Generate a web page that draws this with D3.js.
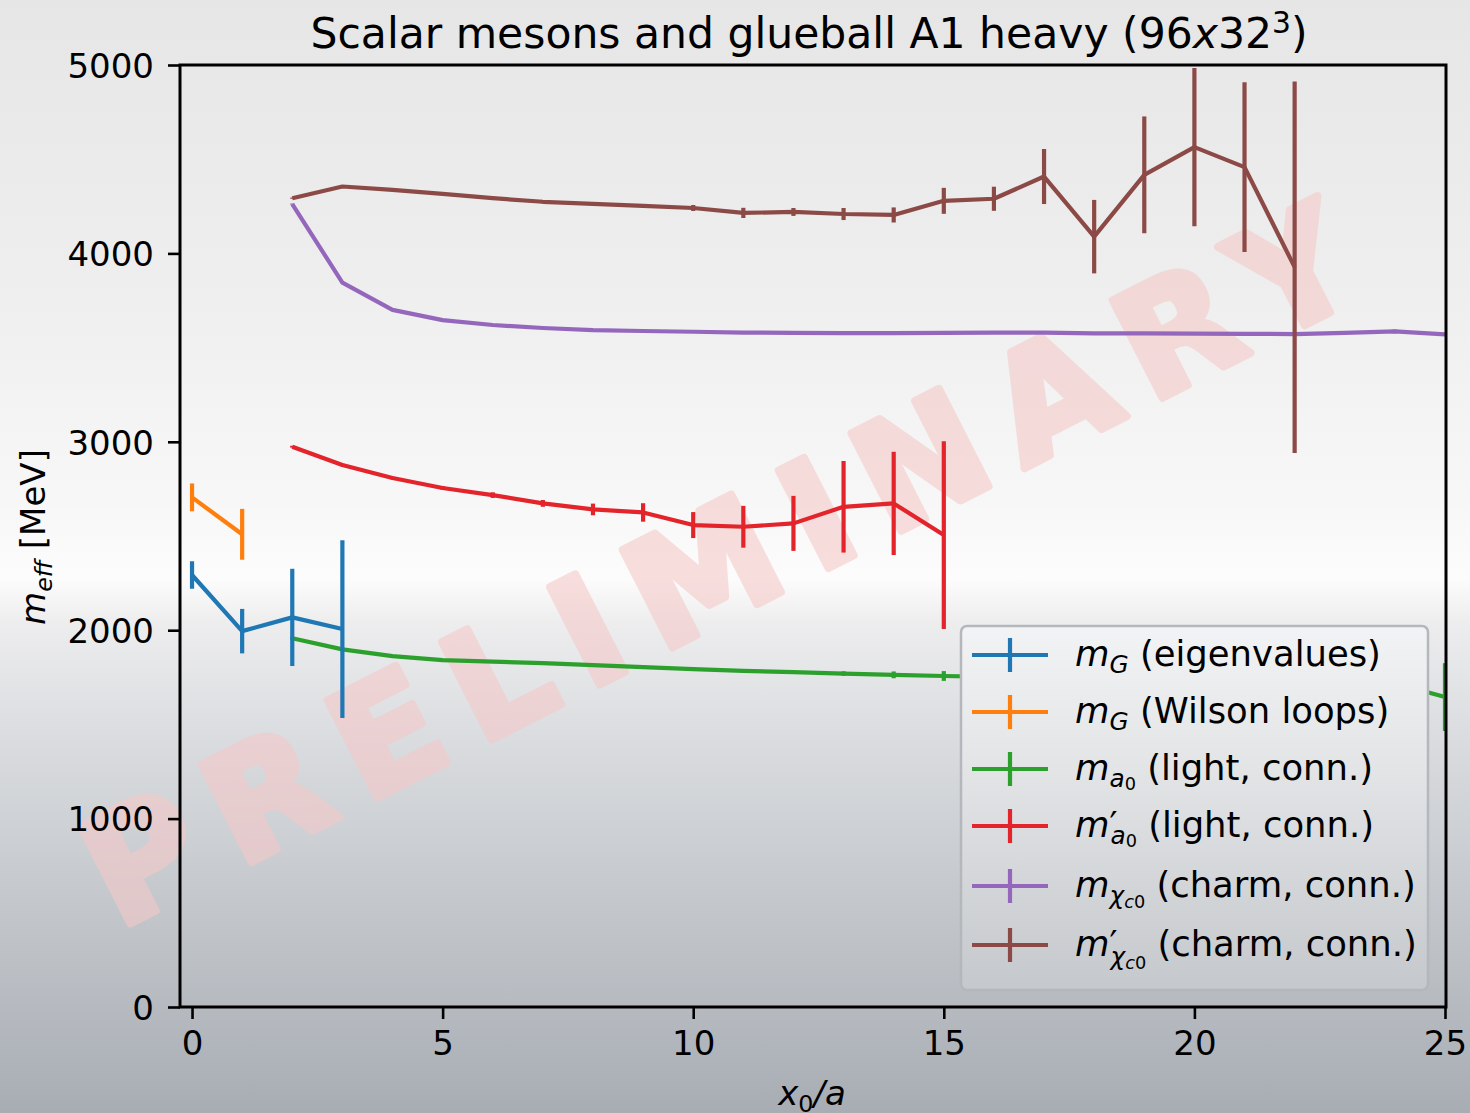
<!DOCTYPE html>
<html>
<head>
<meta charset="utf-8">
<script src="https://cdn.jsdelivr.net/npm/d3@7"></script>
<style>
  html, body { margin: 0; padding: 0; background: #ffffff; }
  svg { display: block; }
  text { font-family: "DejaVu Sans", sans-serif; fill: #000; white-space: pre; }
</style>
</head>
<body>
<svg id="chart" width="1470" height="1113"></svg>
<script>
// ---------------- data ----------------
const xTicks = [0, 5, 10, 15, 20, 25];
const yTicks = [0, 1000, 2000, 3000, 4000, 5000];

const glueEigX = [0, 1, 2, 3];
const glueEigY = [2293, 1995, 2068, 2006];
const glueEigE = [73, 118, 258, 472];

const glueWilX = [0, 1];
const glueWilY = [2705, 2509];
const glueWilE = [74, 135];

const a0X = [2,3,4,5,6,7,8,9,10,11,12,13,14,15,16,17,18,19,20,21,22,23,24,25];
const a0Y = [1957,1898,1862,1841,1833,1825,1815,1804,1793,1784,1777,1770,1763,1757,1752,1748,1744,1740,1736,1732,1728,1724,1718,1645];
const a0E = [8,7,5,5,5,5,5,5,5,6,8,12,18,26,30,35,40,45,55,65,80,100,130,180];

const a0pX = [2,3,4,5,6,7,8,9,10,11,12,13,14,15];
const a0pY = [2974,2877,2808,2755,2717,2673,2641,2625,2558,2549,2567,2655,2673,2505];
const a0pE = [5,6,7,10,15,18,31,49,69,111,146,243,274,498];

const chiX = [2,3,4,5,6,7,8,9,10,11,12,13,14,15,16,17,18,19,20,21,22,23,24,25];
const chiY = [4262,3845,3700,3646,3620,3604,3593,3588,3584,3580,3578,3577,3577,3578,3579,3579,3576,3575,3574,3573,3572,3578,3586,3570];
const chiE = [3,3,3,3,3,3,3,3,3,3,3,3,3,3,3,3,3,3,4,4,5,6,10,8];

const chipX = [2,3,4,5,6,7,8,9,10,11,12,13,14,15,16,17,18,19,20,21,22];
const chipY = [4293,4355,4337,4316,4293,4274,4263,4252,4241,4215,4220,4209,4204,4279,4290,4408,4089,4417,4564,4458,3927];
const chipE = [3,4,5,5,6,8,8,10,16,27,21,32,40,69,64,146,195,310,420,450,986];

const seriesColors = ["#1f77b4", "#ff7f0e", "#2ca02c", "#e3242b", "#9467bd", "#8c4a47"];

// ---------------- setup ----------------
const W = 1470, H = 1113;
const M = { left: 180, right: 1446, top: 65, bottom: 1007 };
const svg = d3.select("#chart");
const defs = svg.append("defs");

const x = d3.scaleLinear().domain([-0.24, 25.02]).range([M.left, M.right]);
const y = d3.scaleLinear().domain([0, 5000]).range([M.bottom, M.top]);

// background gradient
const bg = defs.append("linearGradient").attr("id", "bg")
  .attr("x1", 0).attr("y1", 0).attr("x2", 0).attr("y2", 1);
[[0, "#e6e6e6"], [0.25, "#eeeeee"], [0.45, "#f7f7f7"], [0.52, "#fcfcfc"],
 [0.56, "#ededee"], [0.65, "#dcdee1"], [0.8, "#c5c9cd"], [1, "#a8adb4"]]
  .forEach(([o, c]) => bg.append("stop").attr("offset", o).attr("stop-color", c));
svg.append("rect").attr("width", W).attr("height", H).attr("fill", "url(#bg)");

// legend gradient
const lg = defs.append("linearGradient").attr("id", "lg")
  .attr("gradientUnits", "userSpaceOnUse").attr("x1", 0).attr("y1", 625).attr("x2", 0).attr("y2", 990);
[[0, "#f2f3f4"], [0.4, "#e2e4e6"], [1, "#c5c8cc"]]
  .forEach(([o, c]) => lg.append("stop").attr("offset", o).attr("stop-color", c));

// watermark
svg.append("g").attr("opacity", 0.58)
  .append("text")
  .attr("transform", "translate(742,612) rotate(-27)")
  .attr("text-anchor", "middle")
  .attr("textLength", 1400)
  .attr("lengthAdjust", "spacing")
  .style("font-family", "'DejaVu Sans', sans-serif")
  .style("font-weight", "bold")
  .style("font-size", "150px")
  .style("fill", "rgb(246,200,200)")
  .style("stroke", "rgb(246,200,200)")
  .style("stroke-width", 8)
  .style("stroke-linejoin", "round")
  .text("PRELIMINARY");

// clip
defs.append("clipPath").attr("id", "clip").append("rect")
  .attr("x", M.left).attr("y", M.top).attr("width", M.right - M.left).attr("height", M.bottom - M.top);

const plot = svg.append("g").attr("clip-path", "url(#clip)");
const line = d3.line().x(d => x(d[0])).y(d => y(d[1]));

function drawSeries(xs, ys, es, color) {
  const pts = xs.map((v, i) => [v, ys[i], es[i]]);
  const g = plot.append("g");
  g.append("path").datum(pts).attr("d", line)
    .attr("fill", "none").attr("stroke", color).attr("stroke-width", 4.2).attr("stroke-linejoin", "round");
  g.selectAll("line").data(pts).enter().append("line")
    .attr("x1", d => x(d[0])).attr("x2", d => x(d[0]))
    .attr("y1", d => y(d[1] - d[2])).attr("y2", d => y(d[1] + d[2]))
    .attr("stroke", color).attr("stroke-width", 4.2);
}
drawSeries(a0X, a0Y, a0E, seriesColors[2]);
drawSeries(glueEigX, glueEigY, glueEigE, seriesColors[0]);
drawSeries(glueWilX, glueWilY, glueWilE, seriesColors[1]);
drawSeries(a0pX, a0pY, a0pE, seriesColors[3]);
drawSeries(chiX, chiY, chiE, seriesColors[4]);
drawSeries(chipX, chipY, chipE, seriesColors[5]);

// axes
const xAxis = d3.axisBottom(x).tickValues(xTicks).tickSize(12).tickPadding(12).tickFormat(d3.format("d"));
const yAxis = d3.axisLeft(y).tickValues(yTicks).tickSize(12).tickPadding(14).tickFormat(d3.format("d"));
const gx = svg.append("g").attr("transform", `translate(0,${M.bottom})`).call(xAxis);
const gy = svg.append("g").attr("transform", `translate(${M.left},0)`).call(yAxis);
[gx, gy].forEach(g => {
  g.select(".domain").remove();
  g.selectAll(".tick line").attr("stroke", "#000").attr("stroke-width", 2.6);
  g.selectAll(".tick text").style("font-size", "34px").style("font-family", "'DejaVu Sans', sans-serif").attr("fill", "#000");
});
gx.selectAll(".tick text").attr("dy", "0.71em");
gy.selectAll(".tick text").attr("dy", "0.36em");

svg.append("rect").attr("x", M.left).attr("y", M.top)
  .attr("width", M.right - M.left).attr("height", M.bottom - M.top)
  .attr("fill", "none").attr("stroke", "#000").attr("stroke-width", 3);

// rich text helper: segs = [{t, it, s, dy, back, dx}]
function rich(parent, x0, y0, segs, base, anchor) {
  const g = parent.append("g");
  let cx = 0, lastStart = 0;
  segs.forEach(sg => {
    const startX = sg.back ? lastStart : cx;
    const t = g.append("text")
      .attr("x", startX + (sg.dx || 0)).attr("y", sg.dy || 0)
      .attr("xml:space", "preserve")
      .style("font-size", (base * (sg.s || 1)) + "px")
      .style("font-style", sg.it ? "oblique" : "normal")
      .style("font-family", "'DejaVu Sans', sans-serif")
      .style("white-space", "pre")
      .text(sg.t);
    const w = t.node().getComputedTextLength();
    lastStart = startX;
    cx = Math.max(cx, startX + (sg.dx || 0) + w);
  });
  let off = 0;
  if (anchor === "middle") off = -cx / 2;
  g.attr("transform", `translate(${x0 + off},${y0})`);
  return g;
}

// title
rich(svg, 809, 48, [
  { t: "Scalar mesons and glueball A1 heavy (96" },
  { t: "x", it: true },
  { t: "32" },
  { t: "3", s: 0.7, dy: -15 },
  { t: ")" }
], 42.5, "middle");

// axis labels
rich(svg, 812, 1105, [
  { t: "x", it: true },
  { t: "0", s: 0.7, dy: 7 },
  { t: "/", it: true },
  { t: "a", it: true }
], 34, "middle");

const yl = svg.append("g").attr("transform", "translate(45,537) rotate(-90)");
rich(yl, 0, 0, [
  { t: "m", it: true },
  { t: "eff", it: true, s: 0.7, dy: 7 },
  { t: " [MeV]" }
], 34, "middle");

// legend
const legend = svg.append("g");
legend.append("rect").attr("x", 961).attr("y", 626).attr("width", 467).attr("height", 364)
  .attr("rx", 6).attr("ry", 6).attr("fill", "url(#lg)").attr("stroke", "#b4b7bb").attr("stroke-width", 2.5);

const legendLabels = [
  [{ t: "m", it: true }, { t: "G", it: true, s: 0.7, dy: 7 }, { t: " (eigenvalues)" }],
  [{ t: "m", it: true }, { t: "G", it: true, s: 0.7, dy: 7 }, { t: " (Wilson loops)" }],
  [{ t: "m", it: true }, { t: "a", it: true, s: 0.7, dy: 7 }, { t: "0", s: 0.5, dy: 10 }, { t: " (light, conn.)" }],
  [{ t: "m", it: true }, { t: "′", s: 1 }, { t: "a", it: true, s: 0.7, dy: 7, back: true, dx: 1 }, { t: "0", s: 0.5, dy: 10 }, { t: " (light, conn.)" }],
  [{ t: "m", it: true }, { t: "χ", it: true, s: 0.7, dy: 7 }, { t: "c", it: true, s: 0.5, dy: 11 }, { t: "0", s: 0.5, dy: 11 }, { t: " (charm, conn.)" }],
  [{ t: "m", it: true }, { t: "′", s: 1 }, { t: "χ", it: true, s: 0.7, dy: 9, back: true, dx: 1 }, { t: "c", it: true, s: 0.5, dy: 13 }, { t: "0", s: 0.5, dy: 13 }, { t: " (charm, conn.)" }]
];
const rowY = [655, 712, 769, 826, 886, 945];
legendLabels.forEach((segs, i) => {
  const ry = rowY[i];
  const c = seriesColors[i];
  legend.append("line").attr("x1", 972).attr("x2", 1048).attr("y1", ry).attr("y2", ry)
    .attr("stroke", c).attr("stroke-width", 4.2);
  legend.append("line").attr("x1", 1010).attr("x2", 1010).attr("y1", ry - 17).attr("y2", ry + 17)
    .attr("stroke", c).attr("stroke-width", 4.2);
  rich(legend, 1075, ry + 11, segs, 35.4, "start");
});
</script>
</body>
</html>
